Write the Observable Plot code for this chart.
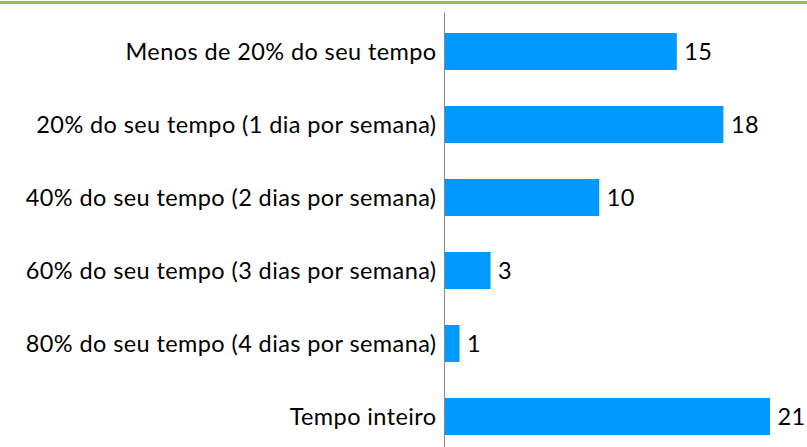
<!DOCTYPE html>
<html>
<head>
<meta charset="utf-8">
<script src="https://cdn.jsdelivr.net/npm/d3@7"></script>
<script src="https://cdn.jsdelivr.net/npm/@observablehq/plot@0.6"></script>
<style>
  html, body { margin: 0; padding: 0; background: #fff; overflow: hidden; }
  #wrap { position: relative; width: 807px; height: 447px; }
  #topline { position: absolute; left: 0; top: 1px; width: 807px; height: 3px; background: #9bbb59; }
  #chart { position: absolute; left: 0; top: 0; }
  #chart text { letter-spacing: 0.4px; }
</style>
</head>
<body>
<div id="wrap"><div id="chart"></div><div id="topline"></div></div>
<script>
const categories = [
  "Menos de 20% do seu tempo",
  "20% do seu tempo (1 dia por semana)",
  "40% do seu tempo (2 dias por semana)",
  "60% do seu tempo (3 dias por semana)",
  "80% do seu tempo (4 dias por semana)",
  "Tempo inteiro"
];
const values = [15, 18, 10, 3, 1, 21];
const data = categories.map((c, i) => ({category: c, value: values[i]}));

const font = "Lato, 'Open Sans', sans-serif";
const fs = 23.5;
const chart = Plot.plot({
  width: 807,
  height: 456,
  marginLeft: 444,
  marginRight: 6,
  marginTop: 12.6,
  marginBottom: 0.6,
  style: {fontFamily: font, fontSize: fs + "px", color: "#000", background: "transparent"},
  x: {domain: [0, 23], axis: null},
  y: {domain: categories, paddingInner: 0.5, paddingOuter: 0.25, label: null},
  marks: [
    Plot.barX(data, {x: "value", y: "category", fill: "#0099ff"}),
    Plot.text(data, {x: "value", y: "category", text: d => String(d.value), textAnchor: "start", dx: 7, fontSize: fs, fill: "#000"}),
    Plot.axisY({tickSize: 0, tickPadding: 8, fontSize: fs, fill: "#000", label: null}),
    Plot.ruleX([0], {stroke: "#888", strokeWidth: 1})
  ]
});
document.getElementById("chart").appendChild(chart);
</script>
</body>
</html>
